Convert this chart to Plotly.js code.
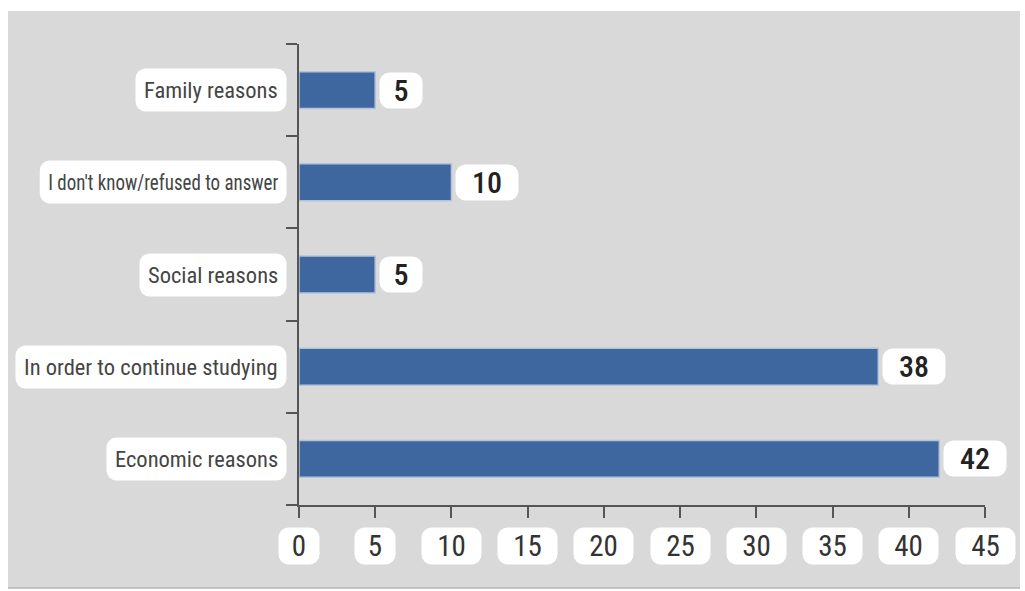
<!DOCTYPE html>
<html>
<head>
<meta charset="utf-8">
<script src="https://cdn.plot.ly/plotly-3.0.1.min.js"></script>
<style>
  html, body { margin: 0; padding: 0; background: #ffffff; }
  #chart { width: 1025px; height: 591px; }
</style>
</head>
<body>
<div id="chart"></div>
<script>
// Data (bottom to top)
const categories = ['Economic reasons', 'In order to continue studying', 'Social reasons', "I don't know/refused to answer", 'Family reasons'];
const values = [42, 38, 5, 10, 5];
const xTickValues = [0, 5, 10, 15, 20, 25, 30, 35, 40, 45];
const xTickLabels = ['0', '5', '10', '15', '20', '25', '30', '35', '40', '45'];

// Styling
const FONT = '"Roboto Condensed", "Liberation Sans Narrow", "DejaVu Sans Condensed", Roboto, sans-serif';
const LABEL_SIZE = 22.5;
const LONG_LABEL_LIMIT = 256;   // labels wider than this are compressed (as in the original)
const LONG_LABEL_WIDTH = 230;

const trace = {
  type: 'bar',
  orientation: 'h',
  x: values,
  y: categories,
  marker: { color: '#3e67a0', line: { color: '#b3c4da', width: 1.5 } },
  width: 0.4,
  hoverinfo: 'none'
};

const annotations = [];
// Category labels
categories.forEach(function (c) {
  annotations.push({
    xref: 'paper', yref: 'y', x: 0, y: c, xanchor: 'right', yanchor: 'middle',
    xshift: -12, text: c, showarrow: false,
    font: { family: FONT, size: LABEL_SIZE, color: '#454545' },
    bgcolor: '#ffffff', borderpad: 8
  });
});
// Value labels
values.forEach(function (v, i) {
  const t = String(v);
  annotations.push({
    xref: 'x', yref: 'y', x: v, y: categories[i], xanchor: 'left', yanchor: 'middle',
    xshift: 4, text: t, showarrow: false, width: 20 * t.length + 22,
    font: { family: FONT, size: 30, color: '#222222', weight: 500 },
    bgcolor: '#ffffff', borderpad: 0
  });
});
// X tick labels
xTickValues.forEach(function (v, i) {
  const t = xTickLabels[i];
  annotations.push({
    xref: 'x', yref: 'paper', x: v, y: 0, xanchor: 'center', yanchor: 'top',
    yshift: -22, text: t, showarrow: false, width: 19 * t.length + 19,
    font: { family: FONT, size: 29, color: '#333333' },
    bgcolor: '#ffffff', borderpad: 1
  });
});

const layout = {
  width: 1025, height: 591,
  margin: { l: 299, r: 40, t: 44, b: 86 },
  paper_bgcolor: '#ffffff',
  plot_bgcolor: 'rgba(0,0,0,0)',
  showlegend: false,
  xaxis: {
    range: [0, 45], fixedrange: true,
    showline: true, linecolor: '#555555', linewidth: 2,
    ticks: 'outside', ticklen: 11, tickwidth: 2, tickcolor: '#555555',
    tickvals: xTickValues, showticklabels: false,
    showgrid: false, zeroline: false
  },
  yaxis: {
    type: 'category', categoryarray: categories, categoryorder: 'array',
    range: [-0.5, 4.5], fixedrange: true,
    showline: true, linecolor: '#555555', linewidth: 2,
    ticks: 'outside', tickson: 'boundaries', ticklen: 11, tickwidth: 2, tickcolor: '#555555',
    showticklabels: false, showgrid: false, zeroline: false
  },
  shapes: [
    { type: 'rect', xref: 'paper', yref: 'paper', layer: 'below',
      x0: (8 - 299) / 686, x1: (1020 - 299) / 686,
      y0: (505 - 588) / 461, y1: (505 - 11) / 461,
      fillcolor: '#d9d9d9', line: { width: 0 } },
    { type: 'line', xref: 'paper', yref: 'paper', layer: 'below',
      x0: (8 - 299) / 686, x1: (1020 - 299) / 686,
      y0: (505 - 588) / 461, y1: (505 - 588) / 461,
      line: { color: '#b5b5b5', width: 1.5 } }
  ],
  annotations: annotations
};

Plotly.newPlot('chart', [trace], layout, { displayModeBar: false, staticPlot: true }).then(function (gd) {
  gd.querySelectorAll('.annotation rect.bg').forEach(function (r) {
    r.setAttribute('rx', 10);
    r.setAttribute('ry', 10);
  });
  // compress overly long category labels, keeping the right edge fixed
  try {
    gd.querySelectorAll('.annotation').forEach(function (g) {
      const txt = g.querySelector('text.annotation-text');
      const rect = g.querySelector('rect.bg');
      if (!txt || !rect) return;
      if (categories.indexOf(txt.textContent) < 0) return;
      const w0 = txt.getComputedTextLength();
      if (w0 <= LONG_LABEL_LIMIT) return;
      const d = w0 - LONG_LABEL_WIDTH;
      txt.setAttribute('textLength', LONG_LABEL_WIDTH);
      txt.setAttribute('lengthAdjust', 'spacingAndGlyphs');
      const rx = parseFloat(rect.getAttribute('x') || '0');
      const rw = parseFloat(rect.getAttribute('width'));
      rect.setAttribute('x', rx + d);
      rect.setAttribute('width', rw - d);
      const prev = txt.getAttribute('transform') || '';
      txt.setAttribute('transform', prev + ' translate(' + (d / 2) + ',0)');
    });
  } catch (e) {}
});
</script>
</body>
</html>
